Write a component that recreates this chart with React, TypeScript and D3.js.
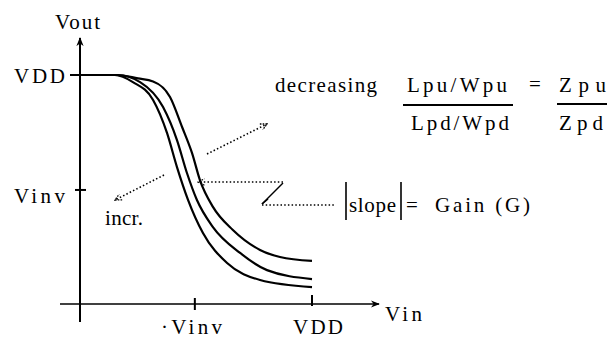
import * as d3 from "d3";
import { useEffect, useRef } from "react";

// transfer curves (Vin, Vout) in units of VDD
const outerVin = [0, 0.16, 0.25, 0.315, 0.388, 0.44, 0.483, 0.517, 0.573, 0.659, 0.776, 0.862, 1.0];
const outerVout = [1, 1, 0.985, 0.972, 0.904, 0.773, 0.659, 0.541, 0.424, 0.323, 0.236, 0.205, 0.188];
const middleVin = [0, 0.16, 0.259, 0.358, 0.418, 0.461, 0.504, 0.573, 0.69, 0.806, 1.0];
const middleVout = [1, 1, 0.969, 0.86, 0.716, 0.572, 0.454, 0.336, 0.223, 0.148, 0.109];
const innerVin = [0, 0.15, 0.228, 0.315, 0.375, 0.418, 0.466, 0.53, 0.634, 0.776, 1.0];
const innerVout = [1, 1, 0.969, 0.891, 0.747, 0.598, 0.454, 0.31, 0.179, 0.105, 0.074];

const xTicks = [0.495, 1];
const xTickLabels = ["·Vinv", "VDD"];
const yTicks = [0.498, 1];
const yTickLabels = ["Vinv", "VDD"];

const FONT = "'Liberation Serif', 'Times New Roman', serif";

export default function App() {
  const ref = useRef<SVGSVGElement>(null);

  useEffect(() => {
    const svg = d3.select(ref.current);
    svg.selectAll("*").remove();

    const x = d3.scaleLinear().domain([0, 1]).range([80, 312]);
    const y = d3.scaleLinear().domain([0, 1]).range([304, 75]);

    const defs = svg.append("defs");
    defs.append("marker")
      .attr("id", "solidHead")
      .attr("viewBox", "0 0 10 10")
      .attr("refX", 9).attr("refY", 5)
      .attr("markerWidth", 9).attr("markerHeight", 9)
      .attr("markerUnits", "userSpaceOnUse")
      .attr("orient", "auto")
      .append("path").attr("d", "M0,1 L10,5 L0,9 L3,5 Z").attr("fill", "#000");
    defs.append("marker")
      .attr("id", "dotHead")
      .attr("viewBox", "0 0 10 10")
      .attr("refX", 9).attr("refY", 5)
      .attr("markerWidth", 8).attr("markerHeight", 8)
      .attr("markerUnits", "userSpaceOnUse")
      .attr("orient", "auto")
      .append("path").attr("d", "M1,1 L9,5 L1,9").attr("fill", "none")
      .attr("stroke", "#000").attr("stroke-width", 1.6).attr("stroke-dasharray", "2 1.5");

    const label = (tx: number, ty: number, s: string, w?: number) => {
      const t = svg.append("text").attr("x", tx).attr("y", ty).text(s);
      if (w) t.attr("textLength", w).attr("lengthAdjust", "spacing");
      return t;
    };

    // axes
    svg.append("line")
      .attr("x1", x(0)).attr("x2", x(0)).attr("y1", 322).attr("y2", 38)
      .attr("stroke", "#000").attr("stroke-width", 2)
      .attr("marker-end", "url(#solidHead)");
    svg.append("line")
      .attr("x1", 60).attr("x2", 379).attr("y1", y(0)).attr("y2", y(0))
      .attr("stroke", "#000").attr("stroke-width", 1.6)
      .attr("marker-end", "url(#solidHead)");

    // y ticks
    yTicks.forEach((t, i) => {
      svg.append("line")
        .attr("x1", i === 1 ? 70 : 75).attr("x2", 86)
        .attr("y1", y(t)).attr("y2", y(t))
        .attr("stroke", "#000").attr("stroke-width", 2);
      label(14, y(t) + (i === 1 ? 8 : 13), yTickLabels[i], 51);
    });

    // x ticks
    xTicks.forEach((t, i) => {
      svg.append("line")
        .attr("x1", x(t)).attr("x2", x(t))
        .attr("y1", i === 1 ? 295 : 298).attr("y2", i === 1 ? 306 : 310)
        .attr("stroke", "#000").attr("stroke-width", 2);
      label(i === 1 ? 293 : 161, 334, xTickLabels[i], i === 1 ? 50 : 61);
    });

    // curves
    const line = d3.line<[number, number]>()
      .x((d) => x(d[0]))
      .y((d) => y(d[1]))
      .curve(d3.curveMonotoneX);
    const curves: [number[], number[]][] = [
      [outerVin, outerVout],
      [middleVin, middleVout],
      [innerVin, innerVout],
    ];
    curves.forEach(([xs, ys]) => {
      const pts = xs.map((v, i) => [v, ys[i]] as [number, number]);
      svg.append("path")
        .attr("d", line(pts))
        .attr("fill", "none")
        .attr("stroke", "#000")
        .attr("stroke-width", 2.2);
    });

    // axis titles
    label(55, 29, "Vout", 45);
    label(385, 321, "Vin", 37);

    // dotted annotations
    const dotted = (pts: [number, number][], head: boolean) => {
      svg.append("path")
        .attr("d", d3.line()(pts))
        .attr("fill", "none")
        .attr("stroke", "#000")
        .attr("stroke-width", 1.6)
        .attr("stroke-dasharray", "1.5 2.2")
        .attr("marker-end", head ? "url(#dotHead)" : null);
    };
    dotted([[207, 154], [267, 124]], true);
    dotted([[164, 175], [115, 200]], true);
    dotted([[283, 182], [198, 182]], true);
    dotted([[262, 205], [334, 205]], false);
    svg.append("line")
      .attr("x1", 283).attr("y1", 183).attr("x2", 262).attr("y2", 204)
      .attr("stroke", "#000").attr("stroke-width", 1.5);
    svg.append("line")
      .attr("x1", 262).attr("y1", 204).attr("x2", 268).attr("y2", 199)
      .attr("stroke", "#000").attr("stroke-width", 1.5);

    label(105, 225, "incr.", 38);
    label(275, 92, "decreasing", 102);

    // ratio
    label(407, 92, "Lpu/Wpu", 100);
    svg.append("line").attr("x1", 403).attr("x2", 513).attr("y1", 105).attr("y2", 105)
      .attr("stroke", "#000").attr("stroke-width", 2);
    label(411, 130, "Lpd/Wpd", 98);
    label(529, 91, "=");
    label(559, 92, "Zpu", 47);
    svg.append("line").attr("x1", 557).attr("x2", 607).attr("y1", 104).attr("y2", 104)
      .attr("stroke", "#000").attr("stroke-width", 2);
    label(559, 130, "Zpd", 44);

    // slope label
    svg.append("line").attr("x1", 346).attr("x2", 346).attr("y1", 182).attr("y2", 220)
      .attr("stroke", "#000").attr("stroke-width", 1.6);
    label(349, 212, "slope", 47);
    svg.append("line").attr("x1", 401).attr("x2", 401).attr("y1", 182).attr("y2", 220)
      .attr("stroke", "#000").attr("stroke-width", 1.6);
    label(406, 212, "=");
    label(435, 212, "Gain (G)", 95);
  }, []);

  return (
    <svg
      ref={ref}
      width={607}
      height={339}
      style={{
        position: "absolute", left: 0, top: 0, background: "#fff",
        fontFamily: FONT, fontSize: 21, stroke: "none",
      }}
    />
  );
}
